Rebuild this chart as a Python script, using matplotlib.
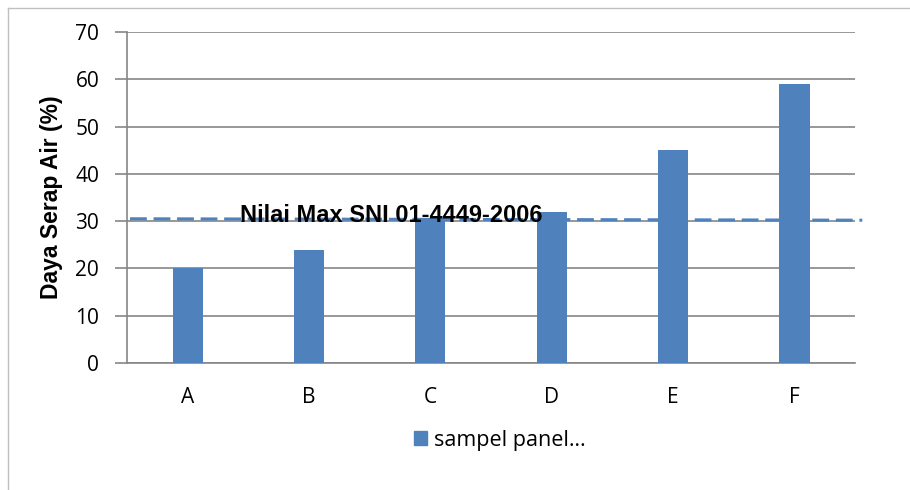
import matplotlib
matplotlib.use("Agg")
import matplotlib.pyplot as plt
from matplotlib.patches import Patch
from matplotlib.lines import Line2D

categories = ["A", "B", "C", "D", "E", "F"]
values = [20, 24, 30.6, 32, 45, 59]
snl_start = 30.5
snl_end = 30.2
snl_label = "Nilai Max SNI 01-4449-2006"
ylabel = "Daya Serap Air (%)"
legend_label = "sampel panel…"

bar_color = "#4F81BD"
grid_color = "#868686"

fig = plt.figure(figsize=(9.1, 4.9), dpi=100)
ax = fig.add_axes([127/910, 1-363/490, (855-127)/910, (363-32)/490])

x = list(range(len(categories)))
ax.bar(x, values, width=0.25, color=bar_color, zorder=3)
ax.set_xlim(-0.5, len(categories)-0.5)
ax.set_ylim(0, 70)
ax.set_yticks(range(0, 71, 10))
ax.set_xticks(x)
ax.set_xticklabels(categories)
ax.grid(axis="y", color=grid_color, linewidth=1.2, zorder=0)
ax.set_axisbelow(True)
for s in ["top", "right"]:
    ax.spines[s].set_visible(False)
ax.spines["left"].set_color(grid_color)
ax.spines["left"].set_linewidth(1.2)
ax.spines["bottom"].set_color(grid_color)
ax.spines["bottom"].set_linewidth(1.2)
ax.tick_params(axis="y", length=9, color=grid_color, width=1.2, labelsize=15, pad=11)
ax.tick_params(axis="x", length=0, labelsize=15, pad=17)
for lab in ax.get_xticklabels() + ax.get_yticklabels():
    lab.set_family("Open Sans")
ax.set_ylabel(ylabel, fontsize=16.5, fontweight="bold", family="Liberation Sans")
ax.yaxis.set_label_coords((63 - 127) / 728, 0.5)

# dashed reference line
ln = Line2D([-0.475, 5.56], [snl_start, snl_end], color=bar_color, linestyle=(0, (5.5, 2.2)),
            linewidth=2.2, zorder=4, clip_on=False)
ax.add_line(ln)
ax.text(1.68, 31.2, snl_label, ha="center", va="center", fontsize=17, fontweight="bold",
        family="Liberation Sans", zorder=5)

leg = fig.legend(handles=[Patch(color=bar_color, label=legend_label)], loc="center",
                 bbox_to_anchor=(500/910, 1-440/490), frameon=False,
                 handlelength=0.6, handleheight=0.6, handletextpad=0.35,
                 prop={"family": "Open Sans", "size": 15.5})

# outer frame (left & top only visible)
fig.add_artist(Line2D([8/910, 8/910], [0, 1-8/490], color="#BFBFBF", linewidth=1, transform=fig.transFigure))
fig.add_artist(Line2D([8/910, 1], [1-8/490, 1-8/490], color="#BFBFBF", linewidth=1, transform=fig.transFigure))

fig.savefig("out.png", dpi=100)
